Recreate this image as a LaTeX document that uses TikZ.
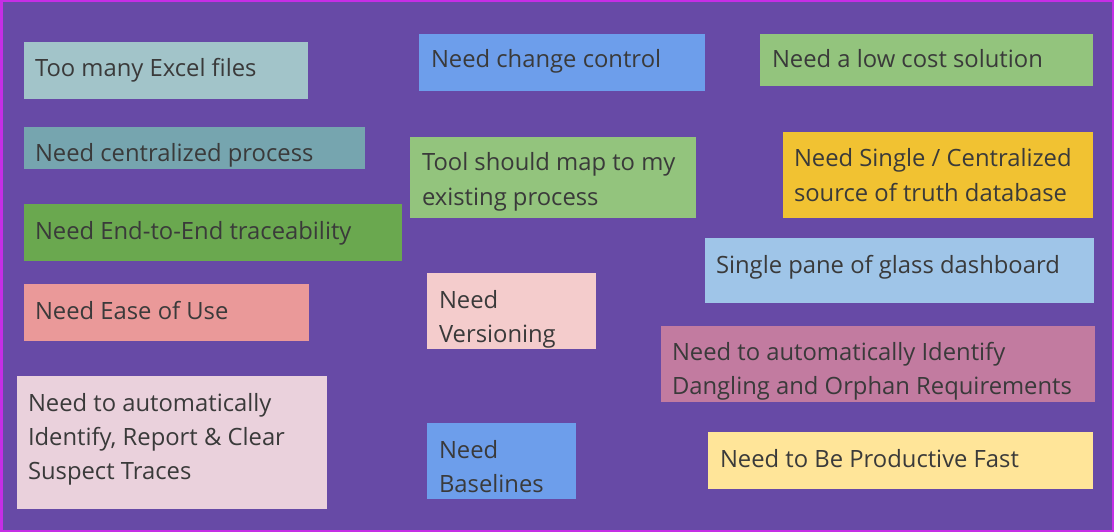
\documentclass[tikz,border=0pt]{standalone}
\usepackage{fontspec}
\setmainfont{Open Sans}
\definecolor{bgpurple}{HTML}{674AA6}
\definecolor{framemag}{HTML}{C62EE6}
\definecolor{txtgray}{HTML}{3A3A3A}
\definecolor{cLightCyan}{HTML}{A2C4C9}
\definecolor{cCyan}{HTML}{76A5AF}
\definecolor{cGreen}{HTML}{6AA84F}
\definecolor{cRedTwo}{HTML}{EA9999}
\definecolor{cMagThree}{HTML}{EAD1DC}
\definecolor{cBlueTwo}{HTML}{6D9EEB}
\definecolor{cGreenTwo}{HTML}{93C47D}
\definecolor{cYellow}{HTML}{F1C232}
\definecolor{cSkyBlue}{HTML}{9FC5E8}
\definecolor{cRedThree}{HTML}{F4CCCC}
\definecolor{cMagOne}{HTML}{C27BA0}
\definecolor{cYellowThree}{HTML}{FFE599}
\tikzset{
  cardtext/.style={anchor=base west, inner sep=0pt, outer sep=0pt, text=txtgray,
    font=\fontsize{23.8}{28}\selectfont}
}
\begin{document}
\begin{tikzpicture}[x=1pt,y=-1pt]
\useasboundingbox (0,0) rectangle (1114,532);
\fill[bgpurple] (0,0) rectangle (1114,532);
\draw[framemag, line width=2.5pt] (1.25,1.25) rectangle (1112.75,530.75);

% left column
\fill[cLightCyan] (24,42) rectangle (308,99);
\node[cardtext] (t1) at (35,77) {Too many Excel files};

\fill[cCyan] (24,127) rectangle (365,169);
\node[cardtext] (t2) at (35,162) {Need centralized process};

\fill[cGreen] (24,204) rectangle (402,261);
\node[cardtext] (t3) at (35,239) {Need End-to-End traceability};

\fill[cRedTwo] (24,284) rectangle (309,341);
\node[cardtext] (t4) at (35,319) {Need Ease of Use};

\fill[cMagThree] (17,376) rectangle (327,509);
\node[cardtext] (t5a) at (28,411) {Need to automatically};
\node[cardtext] (t5b) at (28,445) {Identify, Report \& Clear};
\node[cardtext] (t5c) at (28,479) {Suspect Traces};

% middle column
\fill[cBlueTwo] (419,34) rectangle (705,91);
\node[cardtext] (t6) at (431,68) {Need change control};

\fill[cGreenTwo] (410,137) rectangle (696,218);
\node[cardtext] (t7a) at (422,171) {Tool should map to my};
\node[cardtext] (t7b) at (422,205) {existing process};

\fill[cRedThree] (427,273) rectangle (596,349);
\node[cardtext] (t8a) at (439,308) {Need};
\node[cardtext] (t8b) at (439,342) {Versioning};

\fill[cBlueTwo] (427,423) rectangle (576,499);
\node[cardtext] (t9a) at (439,458) {Need};
\node[cardtext] (t9b) at (439,492) {Baselines};

% right column
\fill[cGreenTwo] (760,34) rectangle (1093,86);
\node[cardtext] (t10) at (772,68) {Need a low cost solution};

\fill[cYellow] (783,132) rectangle (1093,218);
\node[cardtext] (t11a) at (794,167) {Need Single / Centralized};
\node[cardtext] (t11b) at (794,201) {source of truth database};

\fill[cSkyBlue] (705,238) rectangle (1094,303);
\node[cardtext] (t12) at (716,273) {Single pane of glass dashboard};

\fill[cMagOne] (661,326) rectangle (1095,402);
\node[cardtext] (t13a) at (672,360) {Need to automatically Identify};
\node[cardtext] (t13b) at (672,394) {Dangling and Orphan Requirements};

\fill[cYellowThree] (708,432) rectangle (1093,489);
\node[cardtext] (t14) at (720,467) {Need to Be Productive Fast};
\end{tikzpicture}
\end{document}
